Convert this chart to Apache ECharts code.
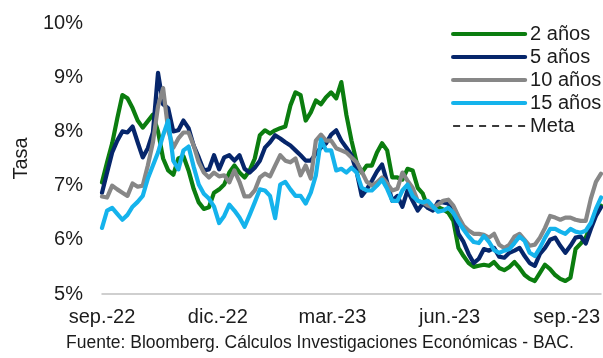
<!DOCTYPE html>
<html>
<head>
<meta charset="utf-8">
<script src="https://cdn.jsdelivr.net/npm/echarts@6/dist/echarts.min.js"></script>
<style>
  html, body { margin: 0; padding: 0; background: #ffffff; }
  #chart { width: 603px; height: 358px; }
</style>
</head>
<body>
<div id="chart"></div>
<script>
// Sampling: one observation every 4 days from 1 Sep 2022 to 28 Sep 2023
const startDate = [2022, 8, 1];
const stepDays = 4;

// Yields (%) by tenor
const yr2 = [
  7.06, 7.43, 7.78, 8.24, 8.67, 8.61, 8.43, 8.20, 8.07, 8.19,
  8.31, 8.00, 7.50, 7.28, 7.20, 7.50, 7.54, 7.28, 6.94, 6.69,
  6.57, 6.60, 6.87, 6.93, 7.02, 7.24, 7.37, 7.24, 7.15, 7.28,
  7.50, 7.93, 8.02, 7.96, 8.02, 8.06, 8.09, 8.48, 8.72, 8.67,
  8.20, 8.35, 8.57, 8.50, 8.63, 8.72, 8.61, 8.91, 8.30, 7.83,
  7.43, 7.24, 7.37, 7.37, 7.61, 7.78, 7.65, 7.15, 7.15, 7.11,
  7.31, 7.28, 6.96, 6.85, 6.59, 6.56, 6.60, 6.56, 6.50, 6.35,
  5.85, 5.70, 5.57, 5.50, 5.52, 5.54, 5.52, 5.59, 5.48, 5.44,
  5.50, 5.59, 5.48, 5.35, 5.28, 5.24, 5.39, 5.54, 5.46, 5.35,
  5.28, 5.24, 5.30, 5.83, 5.93, 6.04, 6.26, 6.54, 6.63
];
const yr5 = [
  6.87, 7.24, 7.61, 7.83, 8.00, 7.98, 8.09, 7.80, 7.52, 7.69,
  7.98, 9.08, 8.50, 8.43, 8.00, 8.02, 8.20, 8.06, 7.74, 7.52,
  7.28, 7.30, 7.56, 7.30, 7.52, 7.56, 7.46, 7.56, 7.31, 7.24,
  7.33, 7.46, 7.70, 7.80, 7.93, 7.87, 7.80, 7.74, 7.65, 7.56,
  7.46, 7.46, 7.59, 7.70, 7.78, 7.94, 8.02, 7.83, 7.70, 7.56,
  7.26, 6.81, 6.93, 7.09, 7.26, 7.39, 7.06, 6.72, 6.81, 6.61,
  6.91, 6.72, 6.54, 6.67, 6.59, 6.54, 6.70, 6.69, 6.67, 6.54,
  6.11, 5.96, 5.74, 5.57, 5.65, 5.83, 5.80, 5.85, 5.69, 5.67,
  5.76, 5.80, 5.85, 5.70, 5.57, 5.52, 5.74, 5.85, 6.00, 6.04,
  5.89, 5.76, 5.89, 6.04, 6.06, 5.93, 6.20, 6.44, 6.60
];
const yr10 = [
  6.80, 6.78, 7.00, 6.93, 6.87, 6.81, 7.04, 6.98, 7.00, 7.37,
  7.80, 8.46, 8.80, 8.02, 7.70, 7.87, 7.98, 7.98, 7.74, 7.43,
  7.24, 7.15, 7.24, 7.17, 7.19, 7.06, 7.28, 7.07, 6.80, 6.80,
  6.91, 7.15, 7.22, 7.17, 7.37, 7.56, 7.46, 7.43, 7.50, 7.19,
  7.37, 7.13, 7.83, 7.94, 7.83, 7.83, 7.69, 7.65, 7.61, 7.52,
  7.43, 7.26, 7.07, 7.00, 7.06, 7.15, 7.04, 6.91, 6.94, 7.24,
  7.09, 6.96, 6.72, 6.69, 6.63, 6.59, 6.65, 6.72, 6.74, 6.63,
  6.43, 6.26, 6.17, 6.11, 6.11, 6.09, 6.04, 6.11, 5.91, 5.85,
  5.91, 6.06, 6.11, 6.00, 5.89, 5.91, 6.04, 6.22, 6.44, 6.41,
  6.37, 6.41, 6.41, 6.37, 6.35, 6.35, 6.76, 7.07, 7.22
];
const yr15 = [
  6.22, 6.54, 6.59, 6.48, 6.37, 6.46, 6.61, 6.70, 6.81, 7.13,
  7.37, 7.61, 7.93, 8.20, 7.46, 7.30, 7.65, 7.72, 7.35, 7.02,
  6.85, 6.76, 6.61, 6.31, 6.44, 6.65, 6.54, 6.41, 6.24, 6.46,
  6.69, 6.93, 6.91, 6.81, 6.40, 7.02, 7.07, 6.93, 6.81, 6.81,
  6.67, 6.87, 7.19, 7.85, 7.65, 7.65, 7.28, 7.31, 7.24, 7.33,
  7.24, 6.96, 6.91, 6.91, 7.00, 7.11, 6.94, 6.72, 6.72, 6.91,
  7.02, 6.81, 6.72, 6.69, 6.72, 6.61, 6.52, 6.54, 6.59, 6.50,
  6.33, 6.19, 6.06, 5.96, 5.94, 6.07, 5.96, 5.81, 5.76, 5.80,
  5.83, 5.94, 6.06, 5.98, 5.76, 5.70, 5.85, 6.04, 6.20, 6.20,
  6.15, 6.11, 6.20, 6.15, 6.13, 6.17, 6.31, 6.57, 6.78
];
const meta = [];

// Quarterly x-axis ticks
const tickDates = [[2022, 8, 1], [2022, 11, 1], [2023, 2, 1], [2023, 5, 1], [2023, 8, 1]];
const tickLabels = ['sep.-22', 'dic.-22', 'mar.-23', 'jun.-23', 'sep.-23'];

const seriesNames = ['2 años', '5 años', '10 años', '15 años', 'Meta'];
const seriesColors = ['#0b7d0f', '#06266b', '#878787', '#15b3ec', '#3a3a3a'];

// x positions are expressed as days elapsed since the start date
const DAY = 86400000;
const t0 = Date.UTC(startDate[0], startDate[1], startDate[2]);
const dayOf = d => Math.round((Date.UTC(d[0], d[1], d[2]) - t0) / DAY);
const days = yr2.map((_, i) => i * stepDays);
const tickDays = tickDates.map(dayOf);

const pair = arr => arr.map((v, i) => [days[i], v]);
const font = 'Liberation Sans, Arial, sans-serif';
const ink = '#1c1c1c';
const LINE_W = 4.2;

const chart = echarts.init(document.getElementById('chart'), null, { renderer: 'canvas' });

function lineSeries(name, values, color, width, dash) {
  return {
    name: name,
    type: 'line',
    data: pair(values),
    showSymbol: false,
    symbol: 'none',
    smooth: false,
    lineStyle: { color: color, width: width, type: dash || 'solid', join: 'round', cap: 'round' },
    itemStyle: { color: color },
    emphasis: { disabled: true }
  };
}

chart.setOption({
  animation: false,
  backgroundColor: '#ffffff',
  textStyle: { fontFamily: font, color: ink },
  grid: { left: 102, right: 0, top: 23, bottom: 64, containLabel: false },
  title: {
    text: 'Fuente: Bloomberg. Cálculos Investigaciones Económicas - BAC.',
    left: 66, top: 334,
    padding: 0,
    textStyle: { fontFamily: font, fontSize: 17.5, fontWeight: 'normal', color: ink }
  },
  legend: {
    data: seriesNames.map((n, i) => ({
      name: n,
      lineStyle: i === 4 ? { width: 1.8, type: [7, 6], cap: 'butt' } : { width: LINE_W, cap: 'round' }
    })),
    orient: 'vertical',
    left: 451, top: 24,
    itemWidth: 72, itemHeight: 14,
    itemGap: 3,
    padding: 0,
    itemStyle: { opacity: 0, borderWidth: 0 },
    textStyle: { fontFamily: font, fontSize: 20, color: ink, lineHeight: 20 }
  },
  xAxis: {
    type: 'value',
    min: 0,
    max: days[days.length - 1],
    axisLine: { show: true, lineStyle: { color: '#c0c0c0', width: 1.5 } },
    axisTick: { show: false },
    splitLine: { show: false },
    axisLabel: {
      customValues: tickDays,
      fontFamily: font, fontSize: 20, color: ink, margin: 13,
      hideOverlap: false,
      formatter: function (val) {
        const k = tickDays.indexOf(Math.round(val));
        return k >= 0 ? tickLabels[k] : '';
      }
    }
  },
  yAxis: {
    type: 'value',
    min: 5, max: 10, interval: 1,
    name: 'Tasa',
    nameLocation: 'middle',
    nameGap: 71,
    nameTextStyle: { fontFamily: font, fontSize: 20, color: ink },
    axisLine: { show: false },
    axisTick: { show: false },
    splitLine: { show: false },
    axisLabel: { fontFamily: font, fontSize: 20, color: ink, margin: 19, formatter: '{value}%' }
  },
  series: [
    lineSeries(seriesNames[0], yr2, seriesColors[0], LINE_W),
    lineSeries(seriesNames[1], yr5, seriesColors[1], LINE_W),
    lineSeries(seriesNames[2], yr10, seriesColors[2], LINE_W),
    lineSeries(seriesNames[3], yr15, seriesColors[3], LINE_W),
    lineSeries(seriesNames[4], meta, seriesColors[4], 1.8, [7, 6])
  ]
});
</script>
</body>
</html>
